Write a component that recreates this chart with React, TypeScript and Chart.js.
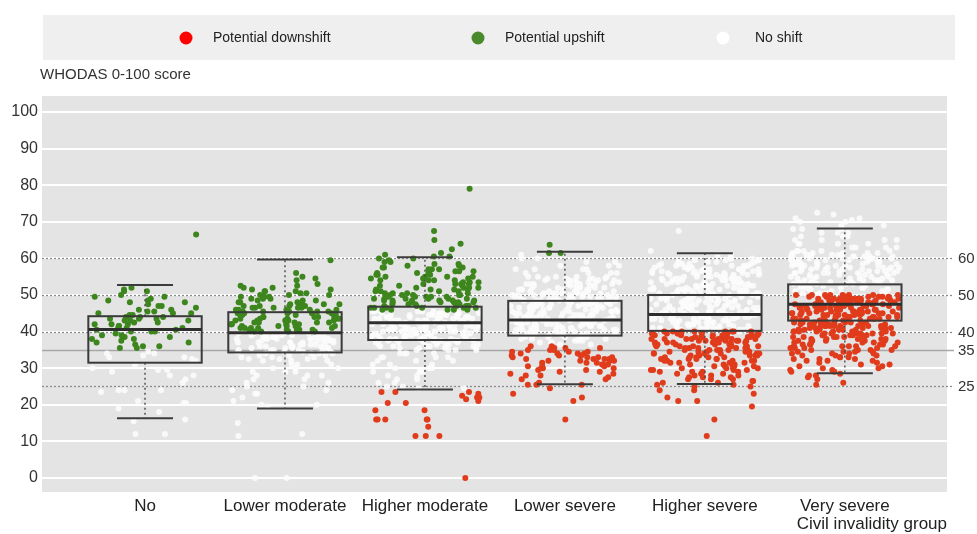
import { useEffect, useRef } from "react";
import { Chart, registerables } from "chart.js";
Chart.register(...registerables);

// ---------- data ----------
const categories = ["No", "Lower moderate", "Higher moderate", "Lower severe", "Higher severe", "Very severe"];
const xTitle = "Civil invalidity group";
const yTitle = "WHODAS 0-100 score";
const yTicks = [0, 10, 20, 30, 40, 50, 60, 70, 80, 90, 100];
const refLines = [60, 50, 40, 35, 25];
const legendLabels = ["Potential downshift", "Potential upshift", "No shift"];

// box-plot statistics per group
const boxQ1 = [31.5, 34.3, 37.7, 38.9, 40.2, 43.0];
const boxMedian = [40.6, 39.7, 42.4, 43.2, 44.7, 47.5];
const boxQ3 = [44.2, 45.3, 46.8, 48.4, 50.0, 52.9];
const whiskerLow = [16.3, 19.0, 24.2, 25.6, 25.7, 28.6];
const whiskerHigh = [52.7, 59.7, 60.3, 61.8, 61.4, 68.2];

// individual scores as [score, number of persons]
type Bin = [number, number];
const noUp: Bin[] = [[66.5,1],[52,1],[51.5,1],[51,2],[50,1],[49.5,2],[49,1],[48.5,2],[48,2],[47.5,1],[47,2],[46.5,1],[46,2],[45.5,2],[45,3],[44.5,2],[44,3],[43.5,3],[43,3],[42.5,2],[42,3],[41.5,2],[41,3],[40.5,2],[40,3],[39.5,1],[39,2],[38.5,2],[38,2],[37.5,1],[37,2],[36.5,1],[36,2],[35.5,2]];
const noNone: Bin[] = [[34.5,1],[34,2],[33.5,1],[33,2],[32.5,1],[32,1],[31,1],[30,1],[29.5,2],[29,1],[28,2],[27,1],[26,1],[24,3],[23.5,1],[21,1],[20.5,2],[19,1],[18,1],[16,1],[15.5,1],[12,2]];

const lowModUp: Bin[] = [[59.5,1],[56,1],[55,1],[54.5,1],[54,1],[53,1],[52.5,2],[52,2],[51.5,2],[51,3],[50.5,2],[50,3],[49.5,3],[49,3],[48.5,3],[48,4],[47.5,4],[47,4],[46.5,5],[46,5],[45.5,5],[45,5],[44.5,5],[44,5],[43.5,5],[43,5],[42.5,5],[42,5],[41.5,5],[41,5],[40.5,5],[40,4]];
const lowModNone: Bin[] = [[39.5,6],[39,6],[38.5,6],[38,6],[37.5,6],[37,6],[36.5,5],[36,5],[35.5,5],[35,5],[34.5,4],[34,4],[33.5,3],[33,3],[32.5,3],[32,3],[31,3],[30,3],[29,3],[28,3],[27,2],[26,2],[25,2],[24,2],[23,2],[22,1],[21,1],[20,2],[19.5,1],[15,1],[12,1],[11.5,1],[0,2]];

const hiModUp: Bin[] = [[79,1],[67.5,1],[65,1],[64,1],[62.5,1],[61.5,1],[61,1],[60.5,2],[60,2],[59.5,1],[59,2],[58.5,2],[58,2],[57.5,3],[57,3],[56.5,3],[56,3],[55.5,3],[55,4],[54.5,3],[54,4],[53.5,3],[53,4],[52.5,3],[52,4],[51.5,4],[51,4],[50.5,4],[50,5],[49.5,5],[49,6],[48.5,6],[48,6],[47.5,6],[47,6],[46.5,6],[46,5]];
const hiModNone: Bin[] = [[45.5,7],[45,7],[44.5,7],[44,7],[43.5,7],[43,7],[42.5,7],[42,7],[41.5,7],[41,7],[40.5,7],[40,7],[39.5,6],[39,6],[38.5,6],[38,6],[37.5,6],[37,5],[36.5,5],[36,5],[35.5,4],[35,4],[34,4],[33,4],[32,3],[31,3],[30,3],[29,3],[28,2],[27,2],[26,2],[25,2],[24.5,2]];
const hiModDown: Bin[] = [[23.5,3],[23,1],[22.5,1],[22,2],[21.5,1],[21,1],[20.5,2],[18.5,2],[16,5],[14,1],[11.5,3],[0,1]];

const lowSevUp: Bin[] = [[63.7,1],[61.5,2]];
const lowSevNone: Bin[] = [[61,1],[60,2],[59,2],[58,3],[57,4],[56,4],[55,5],[54.5,5],[54,5],[53.5,5],[53,6],[52.5,6],[52,6],[51.5,6],[51,6],[50.5,7],[50,7],[49.5,7],[49,7],[48.5,7],[48,7],[47.5,7],[47,7],[46.5,7],[46,7],[45.5,7],[45,7],[44.5,7],[44,7],[43.5,7],[43,7],[42.5,7],[42,7],[41.5,7],[41,7],[40.5,6],[40,6],[39.5,6],[39,5],[38.5,5],[38,4],[37.5,3],[37,3],[36.5,2]];
const lowSevDown: Bin[] = [[36,2],[35.5,3],[35,3],[34.5,3],[34,4],[33.5,4],[33,4],[32.5,4],[32,4],[31.5,3],[31,3],[30.5,3],[30,3],[29.5,2],[29,2],[28.5,2],[28,2],[27.5,1],[27,2],[26,1],[25.5,3],[24.5,1],[23,1],[22,1],[21,1],[16,1]];

const hiSevNone: Bin[] = [[67.5,1],[62,1],[61,2],[60,3],[59.5,4],[59,5],[58.5,5],[58,6],[57.5,6],[57,7],[56.5,7],[56,7],[55.5,7],[55,7],[54.5,7],[54,7],[53.5,7],[53,7],[52.5,7],[52,7],[51.5,7],[51,7],[50.5,7],[50,7],[49.5,7],[49,7],[48.5,7],[48,7],[47.5,7],[47,7],[46.5,7],[46,7],[45.5,7],[45,7],[44.5,7],[44,7],[43.5,7],[43,7],[42.5,7],[42,6],[41.5,6],[41,6],[40.5,6],[40,4]];
const hiSevDown: Bin[] = [[40,8],[39.5,8],[39,8],[38.5,8],[38,8],[37.5,8],[37,7],[36.5,7],[36,7],[35.5,6],[35,6],[34.5,6],[34,6],[33.5,5],[33,5],[32.5,5],[32,5],[31.5,4],[31,4],[30.5,4],[30,4],[29.5,4],[29,4],[28.5,3],[28,3],[27.5,3],[27,3],[26.5,2],[26,2],[25.5,2],[25,2],[24,2],[23,1],[22,1],[21,2],[19.5,1],[16,1],[11.5,1]];

const vSevNone: Bin[] = [[72.5,1],[72,1],[71,2],[70.5,1],[70,2],[69,2],[68,3],[67,3],[66,3],[65,4],[64,4],[63,4],[62,5],[61.5,5],[61,6],[60.5,6],[60,6],[59.5,6],[59,6],[58.5,6],[58,6],[57.5,6],[57,6],[56.5,6],[56,6],[55.5,5],[55,5],[54.5,5],[54,5],[53.5,5],[53,5],[52.5,5],[52,5],[51.5,4],[51,4],[50.5,4],[50,3]];
const vSevDown: Bin[] = [[50,8],[49.5,9],[49,9],[48.5,9],[48,9],[47.5,9],[47,9],[46.5,9],[46,9],[45.5,9],[45,9],[44.5,9],[44,9],[43.5,8],[43,8],[42.5,8],[42,8],[41.5,8],[41,8],[40.5,7],[40,7],[39.5,7],[39,6],[38.5,6],[38,6],[37.5,5],[37,5],[36.5,5],[36,5],[35.5,4],[35,4],[34.5,4],[34,4],[33.5,3],[33,3],[32.5,3],[32,3],[31.5,2],[31,2],[30.5,2],[30,2],[29.5,2],[29,2],[28.5,1],[28,2],[27.5,1],[27,1],[26,1],[25.5,1]];

const downshiftByGroup: Bin[][] = [[], [], hiModDown, lowSevDown, hiSevDown, vSevDown];
const upshiftByGroup: Bin[][] = [noUp, lowModUp, hiModUp, lowSevUp, [], []];
const noShiftByGroup: Bin[][] = [noNone, lowModNone, hiModNone, lowSevNone, hiSevNone, vSevNone];

// ---------- style ----------
const FONT = "'Liberation Sans', Arial, Helvetica, sans-serif";
const RED = "#e03c1c";
const GREEN = "#3d861d";
const WHITE = "rgba(252,252,252,0.88)";
const PLOT_BG = "#e4e4e4";
const LEGEND_BG = "#efefef";
const JITTER = 0.78;
const BOX_HALF = 0.405;
const CAP_HALF = 0.2;
const POINT_R = 3;

// deterministic horizontal jitter (visual spreading only, not data)
function jitter(k: number, g: number, seed: number) {
  const s = Math.sin(k * 12.9898 + g * 78.233 + seed * 37.719) * 43758.5453;
  return s - Math.floor(s);
}

function expand(groups: Bin[][], seed: number) {
  const pts: { x: number; y: number }[] = [];
  groups.forEach((bins, g) => {
    let k = 0;
    for (const [v, n] of bins) {
      for (let j = 0; j < n; j++) {
        const f = jitter(k, g, seed);
        pts.push({ x: g + (f - 0.5) * JITTER, y: v });
        k++;
      }
    }
  });
  return pts;
}

const decorPlugin = {
  id: "decor",
  beforeDraw(chart: any) {
    const { ctx, chartArea } = chart;
    ctx.save();
    ctx.fillStyle = "#ffffff";
    ctx.fillRect(0, 0, chart.width, chart.height);
    ctx.fillStyle = LEGEND_BG;
    ctx.fillRect(43, 15, 912, 45);
    const items = [
      { x: 186, tx: 213, c: "#ff0000" },
      { x: 478, tx: 505, c: "#4b8a2b" },
      { x: 723, tx: 755, c: "#ffffff" },
    ];
    ctx.font = `14px ${FONT}`;
    ctx.textBaseline = "middle";
    ctx.textAlign = "left";
    items.forEach((it, i) => {
      ctx.beginPath();
      ctx.arc(it.x, 38, 6.5, 0, Math.PI * 2);
      ctx.fillStyle = it.c;
      ctx.fill();
      ctx.fillStyle = "#222";
      ctx.fillText(legendLabels[i], it.tx, 38);
    });
    ctx.font = `15px ${FONT}`;
    ctx.fillStyle = "#333";
    ctx.fillText(yTitle, 40, 75);
    ctx.fillStyle = PLOT_BG;
    ctx.fillRect(chartArea.left, chartArea.top, chartArea.right - chartArea.left, chartArea.bottom - chartArea.top);
    ctx.restore();
  },
  beforeDatasetsDraw(chart: any) {
    const { ctx, chartArea } = chart;
    const y = chart.scales.y;
    ctx.save();
    refLines.forEach((v) => {
      const py = Math.round(y.getPixelForValue(v)) + 0.5;
      ctx.beginPath();
      if (v === 35) {
        ctx.setLineDash([]);
        ctx.strokeStyle = "#a8a8a8";
      } else {
        ctx.setLineDash([2, 2]);
        ctx.strokeStyle = "#8a8a8a";
      }
      ctx.lineWidth = 1.3;
      ctx.moveTo(chartArea.left, py);
      ctx.lineTo(954, py);
      ctx.stroke();
      ctx.setLineDash([]);
      ctx.font = `15px ${FONT}`;
      ctx.fillStyle = "#333";
      ctx.textAlign = "left";
      ctx.textBaseline = "middle";
      ctx.fillText(String(v), 958, py);
    });
    ctx.restore();
  },
  afterDatasetsDraw(chart: any) {
    const { ctx } = chart;
    const xs = chart.scales.x;
    const ys = chart.scales.y;
    ctx.save();
    categories.forEach((_, i) => {
      const xl = xs.getPixelForValue(i - BOX_HALF);
      const xr = xs.getPixelForValue(i + BOX_HALF);
      const xc = xs.getPixelForValue(i);
      const cl = xs.getPixelForValue(i - CAP_HALF);
      const cr = xs.getPixelForValue(i + CAP_HALF);
      const yq1 = ys.getPixelForValue(boxQ1[i]);
      const yq3 = ys.getPixelForValue(boxQ3[i]);
      const ymed = ys.getPixelForValue(boxMedian[i]);
      const ylo = ys.getPixelForValue(whiskerLow[i]);
      const yhi = ys.getPixelForValue(whiskerHigh[i]);
      ctx.strokeStyle = "#4a4a4a";
      ctx.lineWidth = 1.4;
      ctx.setLineDash([2, 3]);
      ctx.beginPath();
      ctx.moveTo(xc, yq3);
      ctx.lineTo(xc, yhi);
      ctx.moveTo(xc, yq1);
      ctx.lineTo(xc, ylo);
      ctx.stroke();
      ctx.setLineDash([]);
      ctx.strokeStyle = "#3c3c3c";
      ctx.lineWidth = 2;
      ctx.beginPath();
      ctx.moveTo(cl, yhi);
      ctx.lineTo(cr, yhi);
      ctx.moveTo(cl, ylo);
      ctx.lineTo(cr, ylo);
      ctx.stroke();
      ctx.strokeStyle = "#3a3a3a";
      ctx.lineWidth = 2;
      ctx.strokeRect(xl, yq3, xr - xl, yq1 - yq3);
      ctx.lineWidth = 3;
      ctx.strokeStyle = "#2e2e2e";
      ctx.beginPath();
      ctx.moveTo(xl, ymed);
      ctx.lineTo(xr, ymed);
      ctx.stroke();
    });
    ctx.restore();
  },
};

export default function App() {
  const ref = useRef<HTMLCanvasElement | null>(null);
  useEffect(() => {
    if (!ref.current) return;
    const chart = new Chart(ref.current, {
      type: "scatter",
      data: {
        datasets: [
          { label: legendLabels[0], data: expand(downshiftByGroup, 0.21), backgroundColor: RED, borderWidth: 0, pointRadius: POINT_R },
          { label: legendLabels[1], data: expand(upshiftByGroup, 0.47), backgroundColor: GREEN, borderWidth: 0, pointRadius: POINT_R },
          { label: legendLabels[2], data: expand(noShiftByGroup, 0.73), backgroundColor: WHITE, borderWidth: 0, pointRadius: POINT_R },
        ],
      },
      options: {
        responsive: false,
        animation: false,
        events: [],
        layout: { padding: { top: 96, right: 30, left: 0, bottom: 0 } },
        plugins: { legend: { display: false }, tooltip: { enabled: false } },
        scales: {
          x: {
            type: "linear",
            min: -0.736,
            max: 5.73,
            afterBuildTicks: (s: any) => { s.ticks = categories.map((_, i) => ({ value: i })); },
            afterFit: (s: any) => { s.height = 42; },
            grid: { display: false },
            border: { display: false },
            ticks: {
              autoSkip: false,
              maxRotation: 0,
              padding: -4,
              color: "#222",
              font: { family: FONT, size: 17 },
              callback: (v: any) => categories[Math.round(Number(v))] ?? "",
            },
            title: { display: true, text: xTitle, align: "end", color: "#222", font: { family: FONT, size: 17 }, padding: { top: 0, bottom: -1 } },
          },
          y: {
            type: "linear",
            min: -3.83,
            max: 104.37,
            afterBuildTicks: (s: any) => { s.ticks = yTicks.map((v) => ({ value: v })); },
            afterFit: (s: any) => { s.width = 42; },
            grid: { color: "#ffffff", lineWidth: 2, drawTicks: false },
            border: { display: false },
            ticks: { padding: 4, color: "#333", font: { family: FONT, size: 16 } },
          },
        },
      },
      plugins: [decorPlugin],
    } as any);
    return () => chart.destroy();
  }, []);
  return (
    <div style={{ position: "fixed", left: 0, top: 0, width: 977, height: 534, background: "#fff" }}>
      <canvas ref={ref} width={977} height={534} />
    </div>
  );
}
